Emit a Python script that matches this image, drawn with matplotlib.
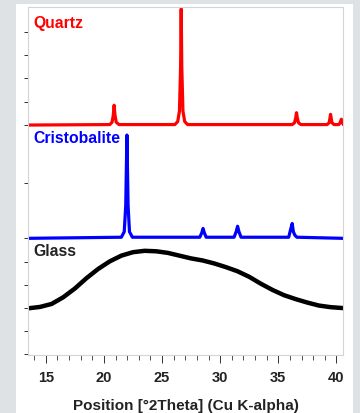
import numpy as np
import matplotlib.pyplot as plt
from matplotlib.patches import Rectangle
from matplotlib.ticker import MultipleLocator

# quartz pattern (2theta, intensity above baseline)
quartz_x = [13.47, 20.5, 20.7, 20.8, 20.88, 20.96, 21.06, 21.3,
            26.1, 26.35, 26.5, 26.6, 26.65, 26.7, 26.8, 26.95, 27.2,
            36.2, 36.4, 36.5, 36.57, 36.64, 36.74, 36.95,
            39.2, 39.38, 39.45, 39.5, 39.55, 39.62, 39.8,
            40.2, 40.33, 40.43, 40.5, 40.57]
quartz_y = [0, 0.02, 0.12, 0.4, 0.85, 0.4, 0.12, 0.02,
            0.02, 0.15, 0.6, 2.5, 4.99, 2.5, 0.6, 0.15, 0.02,
            0.02, 0.1, 0.3, 0.53, 0.3, 0.1, 0.02,
            0.02, 0.1, 0.3, 0.46, 0.3, 0.1, 0.02,
            0.02, 0.1, 0.25, 0.12, 0.05]

cristo_x = [13.47, 21.5, 21.75, 21.88, 21.98, 22.08, 22.2, 22.45,
            28.25, 28.42, 28.53, 28.64, 28.8,
            31.2, 31.38, 31.5, 31.62, 31.8,
            35.9, 36.05, 36.2, 36.3, 36.42, 36.6, 40.57]
cristo_y = [0, 0.02, 0.12, 0.6, 1.88, 0.6, 0.12, 0.02,
            0.02, 0.1, 0.18, 0.1, 0.02,
            0.02, 0.12, 0.22, 0.12, 0.02,
            0.02, 0.15, 0.27, 0.12, 0.06, 0.02, 0]

glass_x = [13.5, 14.5, 15.5, 16.5, 17.5, 18.5, 19.5, 20.5, 21.5, 22.5,
           23.5, 24.5, 25.5, 26.5, 27.5, 28.5, 29.5, 30.5, 31.5, 32.5,
           33.5, 34.5, 35.5, 36.5, 37.5, 38.5, 39.5, 40.57]
glass_y = [1.99, 2.05, 2.18, 2.47, 2.85, 3.30, 3.70, 4.03, 4.28, 4.43,
           4.49, 4.47, 4.40, 4.28, 4.16, 4.07, 3.94, 3.78, 3.60, 3.36,
           3.06, 2.79, 2.56, 2.39, 2.24, 2.11, 2.04, 2.0]

plt.rcParams['font.family'] = ['Liberation Sans', 'DejaVu Sans']

fig = plt.figure(figsize=(3.6, 4.14), dpi=100, facecolor='#dfe2e5')
fig.patches.append(Rectangle((16/360, 0), 337/360, 1 - 5/414, transform=fig.transFigure,
                             facecolor='white', edgecolor='none', zorder=-5))

W, H = 360, 414
def px_axes(top, bottom):
    a = fig.add_axes([28/W, 1 - bottom/H, 315/W, (bottom - top)/H])
    a.set_zorder(2)
    return a

ax_q = px_axes(8, 130)
ax_c = px_axes(130, 244)
ax_g = px_axes(244, 356)

spine_col = '#d4d4d4'
for ax in (ax_q, ax_c, ax_g):
    ax.set_facecolor('none')
    ax.set_xlim(13.47, 40.57)
    for s in ax.spines.values():
        s.set_color(spine_col)
        s.set_linewidth(0.8)
    ax.spines['top'].set_visible(False)
    ax.spines['bottom'].set_visible(False)
    ax.tick_params(axis='y', direction='out', length=3, width=0.7, color='#333333',
                   labelleft=False)
    ax.tick_params(axis='x', bottom=False, labelbottom=False)
ax_q.spines['top'].set_visible(True)
ax_g.spines['bottom'].set_visible(True)

ax_q.plot(quartz_x, quartz_y, color='#ff0000', lw=2.3, solid_joinstyle='round')
ax_q.set_ylim(-0.17, 5.07)
ax_q.set_yticks([0, 1, 2, 3, 4])

ax_c.plot(cristo_x, cristo_y, color='#0000ff', lw=2.3, solid_joinstyle='round')
ax_c.set_ylim(-0.085, 1.99)
ax_c.set_yticks([0, 1])

ax_g.plot(glass_x, glass_y, color='black', lw=3.2, solid_joinstyle='round',
          solid_capstyle='round')
ax_g.set_ylim(-0.04, 4.83)
ax_g.set_yticks([0, 1, 2, 3, 4])
ax_g.xaxis.set_major_locator(MultipleLocator(5))
ax_g.xaxis.set_minor_locator(MultipleLocator(1))
ax_g.tick_params(axis='x', which='major', bottom=True, labelbottom=True, direction='out',
                 length=6, width=0.7, color='#333333', labelsize=10.5, pad=5)
ax_g.tick_params(axis='x', which='minor', bottom=True, direction='out',
                 length=3.5, width=0.6, color='#333333')
for lab in ax_g.get_xticklabels():
    lab.set_fontweight('bold')
    lab.set_color('#222222')
ax_g.set_xlabel('Position [°2Theta] (Cu K-alpha)', fontsize=11, fontweight='bold',
                color='#222222', labelpad=10)

fig.text(33/W, 1 - 16/H, 'Quartz', color='#ff0000', fontsize=11.3, fontweight='bold',
         va='top', zorder=3)
fig.text(33/W, 1 - 131/H, 'Cristobalite', color='#0000ff', fontsize=11.3, fontweight='bold',
         va='top', zorder=3)
fig.text(33/W, 1 - 244/H, 'Glass', color='#222222', fontsize=11.3, fontweight='bold',
         va='top', zorder=3)

fig.savefig('out.png', dpi=100, facecolor=fig.get_facecolor())
